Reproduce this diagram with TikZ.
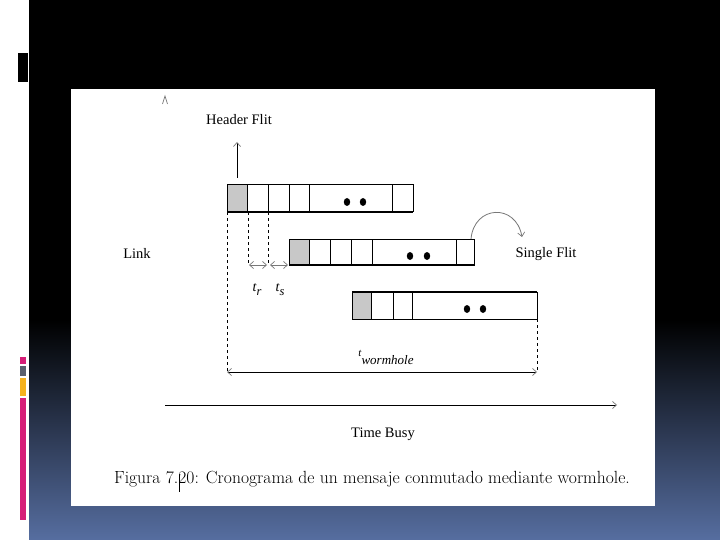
\documentclass[tikz,border=0pt]{standalone}
\usepackage{fontspec}
\newfontfamily\tms{Liberation Serif}
\usetikzlibrary{arrows.meta}
\definecolor{slideblue}{RGB}{86,110,160}
\definecolor{barmag}{RGB}{214,30,120}
\definecolor{bargray}{RGB}{90,96,110}
\definecolor{barorg}{RGB}{245,178,30}
\definecolor{flitgray}{RGB}{200,200,200}
\definecolor{tipgray}{RGB}{120,120,120}
\tikzset{
  lbl/.style={font=\tms\fontsize{14.5}{16}\selectfont, inner sep=0pt},
  cellline/.style={draw=black, line width=1pt},
  thickedge/.style={draw=black, line width=1.8pt},
  dashv/.style={draw=black, line width=0.9pt, dash pattern=on 3pt off 3pt},
  gtip/.style={-{Straight Barb[length=4pt,width=7pt,line width=0.7pt,color=tipgray]}},
  gtips/.style={{Straight Barb[length=4pt,width=7pt,line width=0.7pt,color=tipgray]}-{Straight Barb[length=4pt,width=7pt,line width=0.7pt,color=tipgray]}},
  dot/.style={fill=black, draw=none},
}
\begin{document}
\begin{tikzpicture}[x=1pt,y=-1pt]
\useasboundingbox (0,0) rectangle (720,540);
% background
\fill[white] (0,0) rectangle (720,540);
\fill[black] (29,0) rectangle (720,321);
\shade[top color=black, bottom color=slideblue] (29,320) rectangle (720,540);
\fill[black] (17.5,53) rectangle (28,82);
\fill[barmag] (20,357) rectangle (26,364);
\fill[bargray] (20,365.5) rectangle (26,376);
\fill[barorg] (20,377.5) rectangle (26,396);
\fill[barmag] (20,397.5) rectangle (26,520);
\fill[white] (71,89) rectangle (655,506);

% stray axis tip
\draw[tipgray, line width=0.7pt] (162.5,104) -- (165,96) -- (167.5,104);

% labels
\node[lbl] (hdr) at (239,120) {Header Flit};
\node[lbl] (link) at (137,253) {Link};
\node[lbl] (single) at (546,254) {Single Flit};
\node[lbl] (busy) at (383,434) {Time Busy};
\node[inner sep=0pt, font=\fontsize{17.6}{19}\selectfont] (cap) at (372,479)
  {Figura 7.20: Cronograma de un mensaje conmutado mediante wormhole.};
\draw[black, line width=0.8pt] (179,475) -- (179,492);

% header flit arrow
\coordinate (hA) at (237,178);
\coordinate (hB) at (237,142);
\draw[line width=0.9pt, gtip] (hA) -- (hB);

% row 1
\fill[flitgray] (227,185) rectangle (247,212);
\draw[cellline] (227,185) rectangle (413,212);
\foreach \x in {247,268,289,309,392} \draw[cellline] (\x,185) -- (\x,212);
\draw[thickedge] (227,212) -- (413,212);
\fill[dot] (347,202) ellipse (3.2pt and 4pt);
\fill[dot] (363,202) ellipse (3.2pt and 4pt);

% row 2
\fill[flitgray] (289,239) rectangle (309,265);
\draw[cellline] (289,239) rectangle (474,265);
\foreach \x in {309,330,351,372,456} \draw[cellline] (\x,239) -- (\x,265);
\draw[thickedge] (289,265) -- (474,265);
\fill[dot] (410,256) ellipse (3.2pt and 4pt);
\fill[dot] (427,256) ellipse (3.2pt and 4pt);

% row 3
\fill[flitgray] (352,292) rectangle (371,319);
\draw[cellline] (352,292) rectangle (537,319);
\foreach \x in {371,393,412} \draw[cellline] (\x,292) -- (\x,319);
\draw[thickedge] (352,292) -- (537,292);
\fill[dot] (467,309) ellipse (3.2pt and 4pt);
\fill[dot] (483,309) ellipse (3.2pt and 4pt);

% dashed guides
\coordinate (d1a) at (227,212); \coordinate (d1b) at (227,372);
\coordinate (d2a) at (248,212); \coordinate (d2b) at (248,265);
\coordinate (d3a) at (268,212); \coordinate (d3b) at (268,265);
\coordinate (d4a) at (537,319); \coordinate (d4b) at (537,372);
\draw[dashv] (d1a) -- (d1b);
\draw[dashv] (d2a) -- (d2b);
\draw[dashv] (d3a) -- (d3b);
\draw[dashv] (d4a) -- (d4b);

% tr ts small arrows
\coordinate (r1) at (249,265); \coordinate (r2) at (267,265);
\coordinate (s1) at (270,265); \coordinate (s2) at (288,265);
\draw[tipgray, line width=0.7pt, gtips] (r1) -- (r2);
\draw[tipgray, line width=0.7pt, gtips] (s1) -- (s2);
\node[inner sep=0pt, font=\tms\itshape\fontsize{14}{15}\selectfont] (tr) at (257,290) {t\raisebox{-4pt}{\fontsize{12.5}{13}\selectfont r}};
\node[inner sep=0pt, font=\tms\itshape\fontsize{14}{15}\selectfont] (ts) at (280,290) {t\raisebox{-4pt}{\fontsize{12.5}{13}\selectfont s}};

% t wormhole
\node[inner sep=0pt, font=\tms\itshape\fontsize{11}{12}\selectfont] (tw) at (386,357) {t\raisebox{-8pt}{\fontsize{13}{14}\selectfont wormhole}};
\draw[black, line width=0.9pt, gtips] (d1b) -- (d4b);

% single flit curved arrow
\coordinate (c1) at (471,239);
\coordinate (c2) at (522,237);
\draw[tipgray, line width=0.8pt, gtip] (c1) .. controls (474,205) and (516,203) .. (c2);

% time axis
\coordinate (ta) at (165,405);
\coordinate (tb) at (617,405);
\draw[black, line width=0.9pt, gtip] (ta) -- (tb);
\end{tikzpicture}
\end{document}
